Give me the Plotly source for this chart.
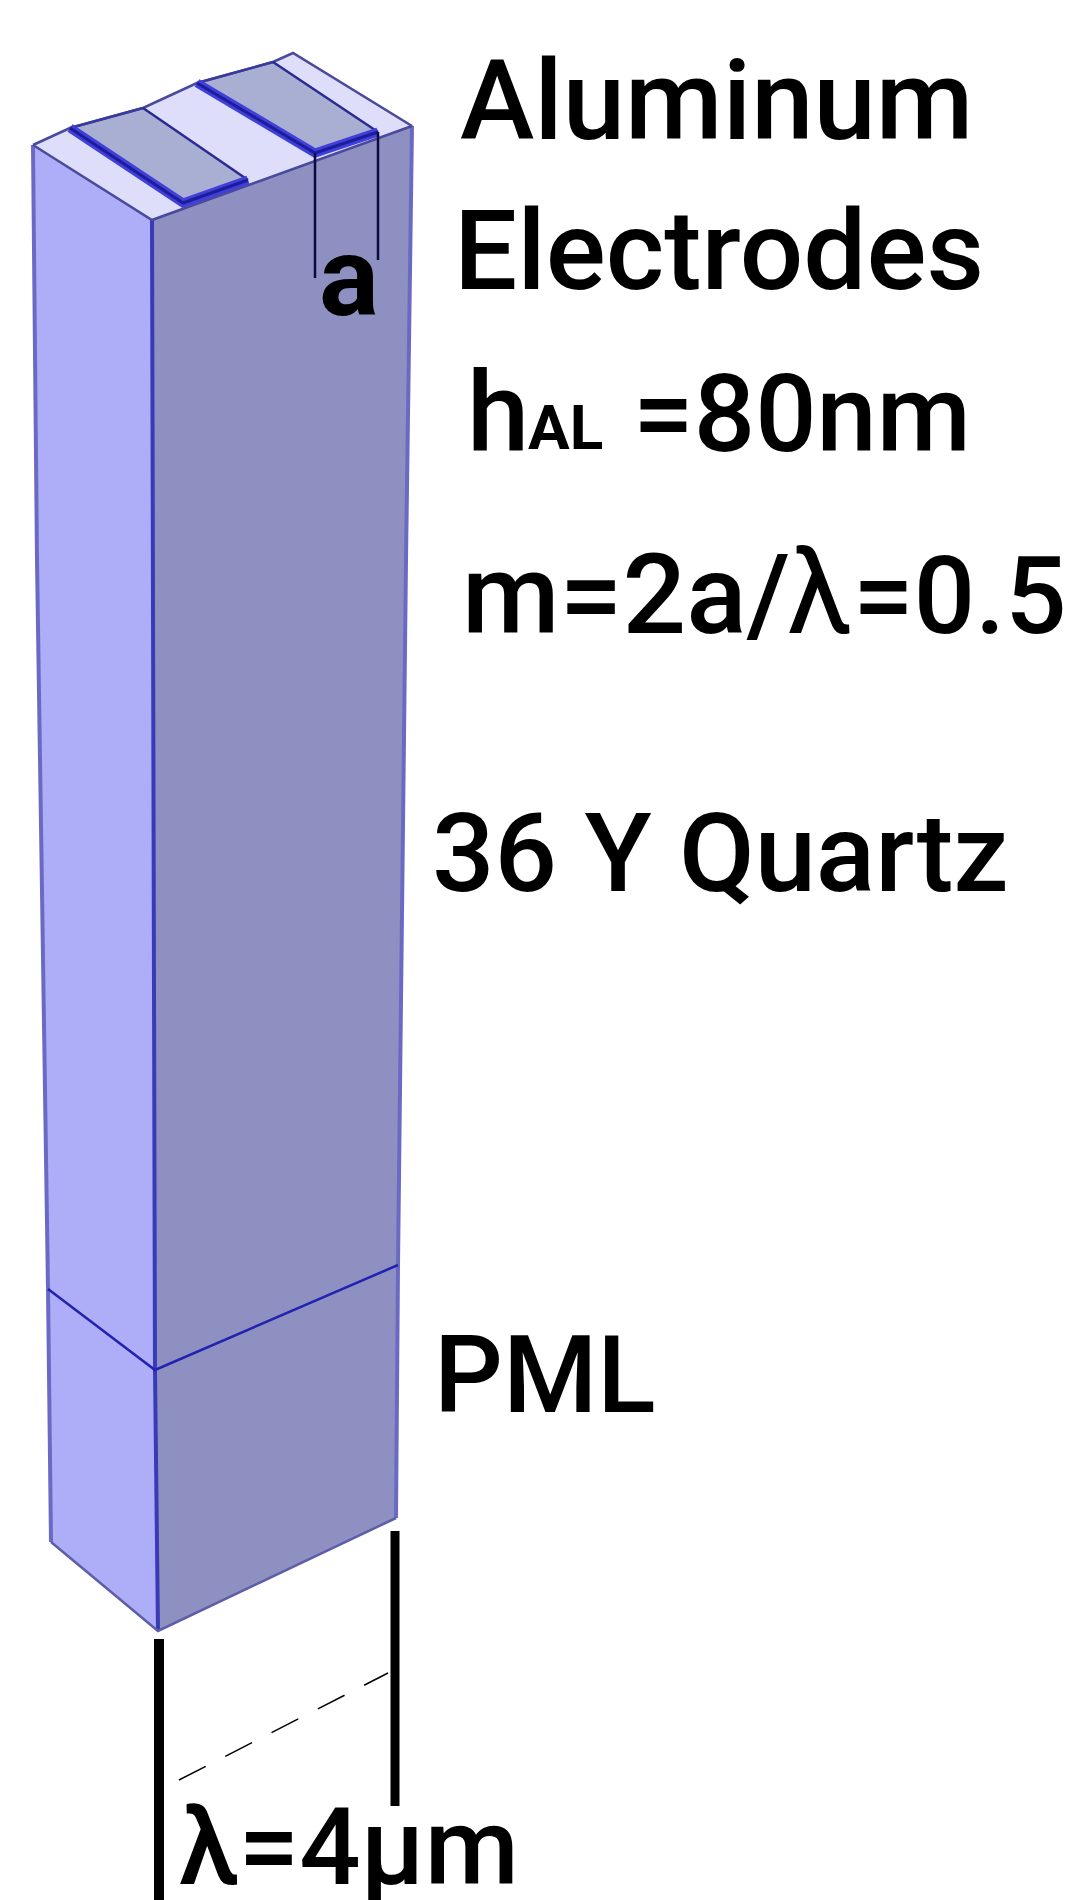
"""
Layered SAW unit cell sketch: quartz column, PML block and two aluminum electrodes.
Axes are image pixels so the vertices read straight off the reference.
"""
import plotly.graph_objects as go

# faces
left_x = [33, 152, 155, 158, 51, 48]
left_y = [145, 220, 1370, 1631, 1542, 1289]
right_x = [152, 412, 406, 398, 396, 158, 155]
right_y = [220, 126, 560, 1265, 1518, 1631, 1370]
top_x = [33, 70, 143, 197, 273, 293, 412, 152]
top_y = [145, 128, 108, 83, 62, 53, 126, 220]

# electrodes on the top face
elec1_x = [70, 143, 248, 183]
elec1_y = [128, 108, 180, 203]
elec2_x = [197, 273, 378, 315]
elec2_y = [83, 62, 132, 153]

# outline strokes
edge_left_x = [33, 37, 48, 51]
edge_left_y = [145, 560, 1289, 1542]
edge_right_x = [412, 406, 398, 396]
edge_right_y = [126, 560, 1265, 1518]
edge_front_x = [152, 155, 158]
edge_front_y = [220, 1370, 1631]
edge_base_x = [51, 158, 396]
edge_base_y = [1542, 1631, 1518]
pml_x = [48, 155, 398]
pml_y = [1289, 1370, 1265]

# dimension marks
dim_a1_x = [315, 315]
dim_a1_y = [153, 278]
dim_a2_x = [378, 378]
dim_a2_y = [132, 260]
dim_w1_x = [159, 159]
dim_w1_y = [1639, 1900]
dim_w2_x = [395, 395]
dim_w2_y = [1531, 1806]
dim_dash_x = [179, 388]
dim_dash_y = [1780, 1673]

# labels
labels = ["Aluminum", "Electrodes", "h", "AL", "=80nm", "m=2a/", "λ", "=0.5",
          "36 Y Quartz", "PML", "λ=4μm", "a"]
label_x = [459, 453, 466, 527, 632, 461, 786, 852, 431, 433, 178, 318]
label_y = [135, 285, 447, 447, 447, 629, 629, 629, 887, 1408, 1880, 311]
label_size = [112, 112, 112, 62, 108, 112, 118, 108, 110, 108, 108, 112]
label_weight = [500, 500, 500, 700, 500, 500, 400, 500, 500, 500, 500, 700]

fig = go.Figure()


def poly(xs, ys, fill):
    fig.add_trace(go.Scatter(x=xs, y=ys, mode="lines", fill="toself", fillcolor=fill,
                             line=dict(width=0), hoverinfo="skip", showlegend=False))


def stroke(xs, ys, color, width, dash="solid"):
    fig.add_trace(go.Scatter(x=xs, y=ys, mode="lines", line=dict(color=color, width=width, dash=dash),
                             hoverinfo="skip", showlegend=False))


poly(left_x, left_y, "#aeaef8")
poly(right_x, right_y, "#8f90c2")
poly(top_x, top_y, "#dedefb")
poly(elec1_x, elec1_y, "#a9afd3")
poly(elec2_x, elec2_y, "#a9afd3")

stroke(edge_left_x, edge_left_y, "#6a6ac4", 4)
stroke(edge_right_x, edge_right_y, "#6a6ac4", 4)
stroke(edge_front_x, edge_front_y, "#3a3ab8", 4)
stroke(edge_base_x, edge_base_y, "#5d5da8", 2.5)
stroke(pml_x, pml_y, "#2222b0", 2.5)
stroke(top_x + top_x[:1], top_y + top_y[:1], "#4a4a9c", 2.5)

for xs, ys in ((elec1_x, elec1_y), (elec2_x, elec2_y)):
    stroke(xs[:2], ys[:2], "#3a3a9c", 2.5)
    stroke(xs[1:3], ys[1:3], "#2a2a90", 2.5)
    stroke([xs[0], xs[3], xs[2]], [ys[0], ys[3], ys[2]], "#4040d8", 9)
    stroke([xs[0], xs[3], xs[2]], [ys[0], ys[3], ys[2]], "#1c1c9c", 3)

stroke(dim_a1_x, dim_a1_y, "#0a0a40", 2.5)
stroke(dim_a2_x, dim_a2_y, "#0a0a40", 2.5)
stroke(dim_w1_x, dim_w1_y, "#000000", 10)
stroke(dim_w2_x, dim_w2_y, "#000000", 9)
stroke(dim_dash_x, dim_dash_y, "#000000", 1.5, "30px,22px")

for text, x, y, size, weight in zip(labels, label_x, label_y, label_size, label_weight):
    fig.add_annotation(x=x, y=y, text=text, showarrow=False, xanchor="left", yanchor="bottom",
                       xref="x", yref="y", borderpad=0, yshift=-size * 0.29,
                       font=dict(family="Roboto", size=size, color="#000000", weight=weight))

fig.update_layout(width=1085, height=1900, margin=dict(l=0, r=0, t=0, b=0),
                  paper_bgcolor="#ffffff", plot_bgcolor="#ffffff", showlegend=False)
fig.update_xaxes(range=[0, 1085], visible=False)
fig.update_yaxes(range=[1900, 0], visible=False)

fig.write_html("out.html", config={"displayModeBar": False},
               post_script="document.body.style.margin='0';")
